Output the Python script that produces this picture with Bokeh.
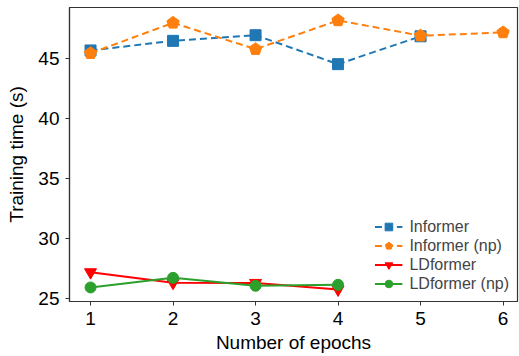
from bokeh.plotting import figure
from bokeh.models import Range1d, Legend, LegendItem, FixedTicker
from bokeh.embed import file_html
from bokeh.resources import INLINE

epochs_inf = [1, 2, 3, 4, 5]
informer = [45.67, 46.47, 46.94, 44.53, 46.85]
epochs_inf_np = [1, 2, 3, 4, 5, 6]
informer_np = [45.44, 47.97, 45.78, 48.17, 46.9, 47.17]
epochs_ld = [1, 2, 3, 4]
ldformer = [27.19, 26.31, 26.3, 25.75]
ldformer_np = [25.92, 26.72, 26.06, 26.14]
x_ticks = [1, 2, 3, 4, 5, 6]
y_ticks = [25, 30, 35, 40, 45]

FONT = "Liberation Sans"

p = figure(width=519, height=356, output_backend="svg", toolbar_location=None,
           x_range=Range1d(0.745, 6.175), y_range=Range1d(24.75, 49.25),
           min_border_left=69, min_border_right=2, min_border_top=7, min_border_bottom=55)
p.grid.visible = False
p.outline_line_color = "#333333"
p.outline_line_width = 1.2
for ax in (p.xaxis[0], p.yaxis[0]):
    ax.axis_line_color = "#333333"
    ax.axis_line_width = 1.2
    ax.major_tick_line_color = "#333333"
    ax.major_tick_in = 0
    ax.major_tick_out = 4
    ax.minor_tick_line_color = None
    ax.major_label_text_font = FONT
    ax.major_label_text_font_size = "19px"
    ax.major_label_text_color = "black"
    ax.axis_label_text_font = FONT
    ax.axis_label_text_font_size = "19px"
    ax.axis_label_text_font_style = "normal"
    ax.axis_label_text_color = "black"
p.xaxis.ticker = FixedTicker(ticks=x_ticks)
p.yaxis.ticker = FixedTicker(ticks=y_ticks)
p.xaxis.axis_label = "Number of epochs"
p.yaxis.axis_label = "Training time (s)"
p.xaxis.major_label_standoff = 6
p.yaxis.major_label_standoff = 6
p.xaxis.axis_label_standoff = 4
p.yaxis.axis_label_standoff = 8

blue, orange, red, green = "#1f77b4", "#ff7f0e", "#ff0000", "#2ca02c"

l1 = p.line(epochs_inf, informer, color=blue, line_width=2, line_dash="7 4")
m1 = p.scatter(epochs_inf, informer, marker="square", size=11, color=blue)
l2 = p.line(epochs_inf_np, informer_np, color=orange, line_width=2, line_dash="7 4")
m2 = p.ngon(epochs_inf_np, informer_np, radius=6.5, radius_units="screen", n=5,
            angle=0, color=orange)
l3 = p.line(epochs_ld, ldformer, color=red, line_width=2)
m3 = p.scatter(epochs_ld, ldformer, marker="inverted_triangle", size=12, color=red)
l4 = p.line(epochs_ld, ldformer_np, color=green, line_width=2)
m4 = p.scatter(epochs_ld, ldformer_np, marker="circle", size=11, color=green)

legend = Legend(items=[
    LegendItem(label="Informer", renderers=[l1, m1]),
    LegendItem(label="Informer (np)", renderers=[l2, m2]),
    LegendItem(label="LDformer", renderers=[l3, m3]),
    LegendItem(label="LDformer (np)", renderers=[l4, m4]),
], location="bottom_right")
legend.background_fill_alpha = 0
legend.border_line_color = None
legend.label_text_font = FONT
legend.label_text_font_size = "16px"
legend.label_height = 19
legend.glyph_height = 19
legend.glyph_width = 28
legend.label_standoff = 7
legend.spacing = 0
legend.padding = 0
legend.margin = 8
p.add_layout(legend)

open("out.html", "w").write(file_html(p, INLINE))
